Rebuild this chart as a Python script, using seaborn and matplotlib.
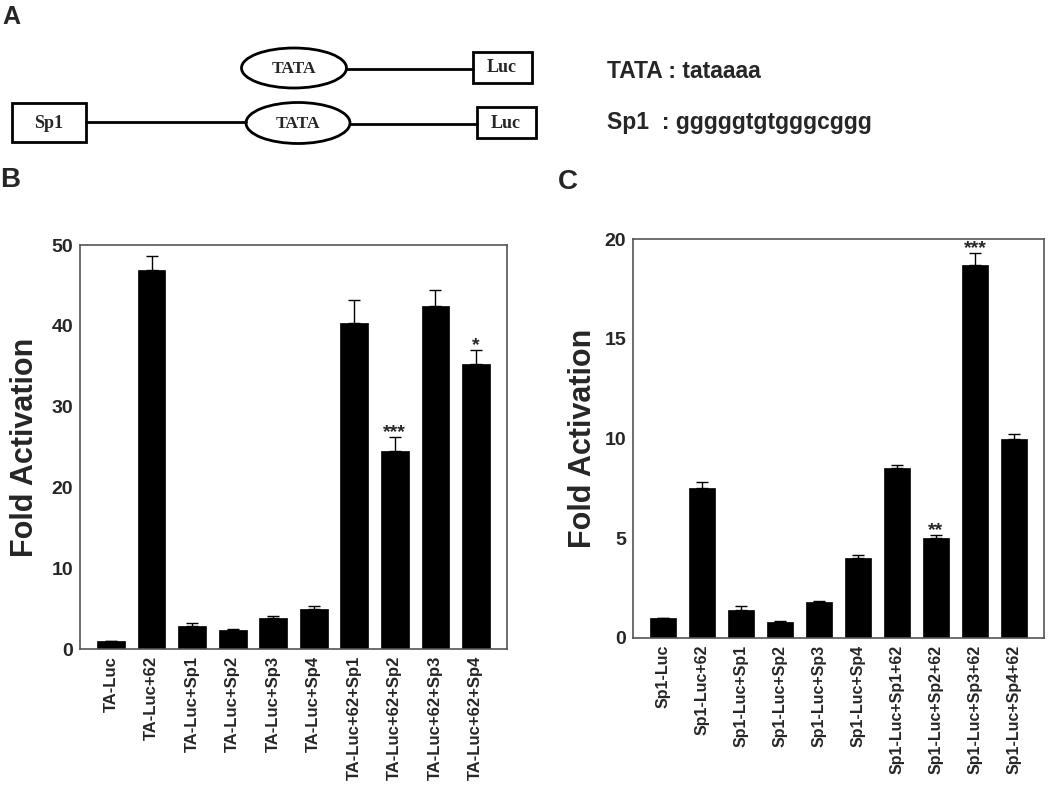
import numpy as np
import pandas as pd
import matplotlib
matplotlib.use("Agg")
import matplotlib.pyplot as plt
from matplotlib.patches import Ellipse, Rectangle
import seaborn as sns

# panel B data
labels_b = ["TA-Luc", "TA-Luc+62", "TA-Luc+Sp1", "TA-Luc+Sp2", "TA-Luc+Sp3",
            "TA-Luc+Sp4", "TA-Luc+62+Sp1", "TA-Luc+62+Sp2", "TA-Luc+62+Sp3",
            "TA-Luc+62+Sp4"]
fold_b = [1.0, 46.9, 2.9, 2.3, 3.8, 5.0, 40.4, 24.5, 42.4, 35.3]
err_b = [0.0, 1.8, 0.3, 0.2, 0.3, 0.3, 2.8, 1.7, 2.0, 1.7]
stars_b = ["", "", "", "", "", "", "", "***", "", "*"]

# panel C data
labels_c = ["Sp1-Luc", "Sp1-Luc+62", "Sp1-Luc+Sp1", "Sp1-Luc+Sp2", "Sp1-Luc+Sp3",
            "Sp1-Luc+Sp4", "Sp1-Luc+Sp1+62", "Sp1-Luc+Sp2+62", "Sp1-Luc+Sp3+62",
            "Sp1-Luc+Sp4+62"]
fold_c = [1.0, 7.5, 1.4, 0.8, 1.8, 4.0, 8.5, 5.0, 18.7, 10.0]
err_c = [0.0, 0.3, 0.2, 0.05, 0.06, 0.15, 0.18, 0.16, 0.58, 0.25]
stars_c = ["", "", "", "", "", "", "", "**", "***", ""]

sns.set_style("white")
plt.rcParams['font.family'] = ['Liberation Sans', 'DejaVu Sans']
plt.rcParams['font.weight'] = 'bold'

W, H = 1050, 792
fig = plt.figure(figsize=(W / 100, H / 100), dpi=100)


def px_axes(x0, y0, x1, y1):
    return fig.add_axes([x0 / W, 1 - y1 / H, (x1 - x0) / W, (y1 - y0) / H])


def bar_panel(ax, labels, vals, errs, stars, ymax, step, xfs, lpad):
    df = pd.DataFrame({"cond": labels, "fold": vals})
    sns.barplot(data=df, x="cond", y="fold", order=labels, color="black",
                saturation=1, width=0.68, errorbar=None, ax=ax,
                edgecolor="black", linewidth=0.5)
    x = np.arange(len(labels))
    ax.errorbar(x, vals, yerr=[np.zeros(len(errs)), errs], fmt='none',
                ecolor='black', elinewidth=1, capsize=4, capthick=1)
    for xi, v, e, s in zip(x, vals, errs, stars):
        if s:
            ax.annotate(s, (xi, v + e), xytext=(0, -3), textcoords='offset points',
                        ha='center', va='bottom', fontsize=14, fontweight='bold')
    ax.set_xlim(-0.77, len(labels) - 0.23)
    ax.set_ylim(0, ymax)
    ax.set_yticks(np.arange(0, ymax + 1, step))
    ax.set_xlabel("")
    ax.set_ylabel("Fold Activation", fontsize=22, fontweight='bold', labelpad=lpad)
    ax.tick_params(axis='y', length=0, pad=5, labelsize=14)
    ax.tick_params(axis='x', length=0, pad=5, labelsize=xfs, rotation=90)
    for sp in ax.spines.values():
        sp.set_visible(True)
        sp.set_color('#555555')
        sp.set_linewidth(1.2)


axB = px_axes(80, 245, 507, 649)
bar_panel(axB, labels_b, fold_b, err_b, stars_b, 50, 10, 12, 8)

axC = px_axes(633, 239, 1044, 638)
bar_panel(axC, labels_c, fold_c, err_c, stars_c, 20, 5, 11.5, 4.5)

# panel A: construct diagram
axA = px_axes(0, 0, 1050, 160)
axA.set_xlim(0, 1050)
axA.set_ylim(160, 0)
axA.axis('off')

serif = ['Liberation Serif', 'DejaVu Serif']
lw = 2
axA.plot([346, 473], [69, 69], color='black', lw=lw)
axA.add_patch(Ellipse((294, 68), 105, 40, fill=False, lw=lw, ec='black'))
axA.add_patch(Rectangle((473, 52), 59, 31, fill=False, lw=lw, ec='black'))
axA.text(294, 69, "TATA", family=serif, fontsize=12.5, fontweight='bold',
         ha='center', va='center')
axA.text(502, 68, "Luc", family=serif, fontsize=13, fontweight='bold',
         ha='center', va='center')

axA.plot([86, 246], [122, 122], color='black', lw=lw)
axA.plot([350, 477], [124, 124], color='black', lw=lw)
axA.add_patch(Rectangle((12, 103), 74, 39, fill=False, lw=lw, ec='black'))
axA.add_patch(Ellipse((298, 123), 104, 41, fill=False, lw=lw, ec='black'))
axA.add_patch(Rectangle((477, 107), 59, 31, fill=False, lw=lw, ec='black'))
axA.text(49, 123, "Sp1", family=serif, fontsize=13, fontweight='bold',
         ha='center', va='center')
axA.text(298, 124, "TATA", family=serif, fontsize=12.5, fontweight='bold',
         ha='center', va='center')
axA.text(506, 123, "Luc", family=serif, fontsize=13, fontweight='bold',
         ha='center', va='center')

axA.text(607, 78, "TATA : tataaaa", fontsize=16.5, fontweight='bold',
         ha='left', va='baseline')
axA.text(607, 129, "Sp1  : gggggtgtgggcggg", fontsize=16.5, fontweight='bold',
         ha='left', va='baseline')

fig.text(2 / W, 1 - 17 / H, "A", fontsize=18, fontweight='bold', va='center')
fig.text(0 / W, 1 - 180 / H, "B", fontsize=20, fontweight='bold', va='center')
fig.text(558 / W, 1 - 182 / H, "C", fontsize=20, fontweight='bold', va='center')

fig.savefig("out.png", dpi=100)
